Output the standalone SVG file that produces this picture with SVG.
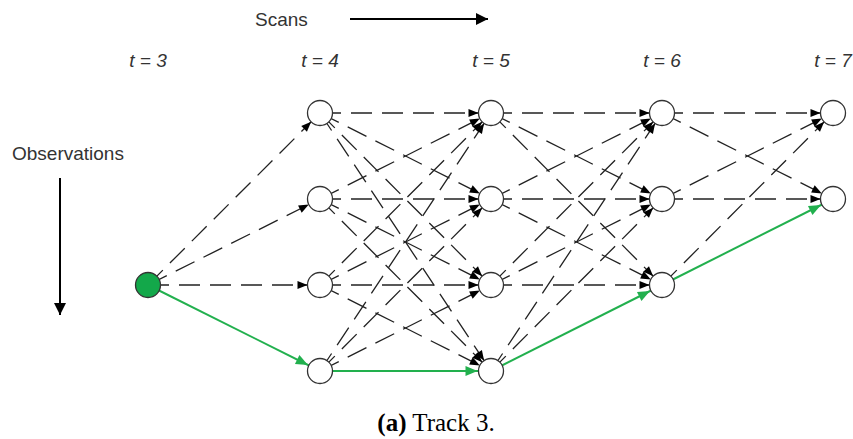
<svg xmlns="http://www.w3.org/2000/svg" width="853" height="439" viewBox="0 0 853 439">
<style>
.lbl{font-family:"Liberation Sans",Arial,sans-serif;font-size:19px;fill:#333}
.t{font-family:"Liberation Sans",Arial,sans-serif;font-size:19px;font-style:italic;fill:#333;text-anchor:middle}
.e{stroke:#222;stroke-width:1.3;fill:none;stroke-dasharray:21 10;marker-end:url(#ah)}
.g{stroke:#22b04e;stroke-width:2;fill:none;marker-end:url(#gh)}
.n{fill:#fff;stroke:#333;stroke-width:1.3}
.ng{fill:#13a84a;stroke:#333;stroke-width:1.3}
</style>
<defs>
<marker id="ah" markerUnits="userSpaceOnUse" markerWidth="12" markerHeight="10" refX="22.5" refY="4" orient="auto" overflow="visible"><path d="M0,0 L10,4 L0,8 z" fill="#000"/></marker>
<marker id="gh" markerUnits="userSpaceOnUse" markerWidth="14" markerHeight="12" refX="25.5" refY="5" orient="auto" overflow="visible"><path d="M0,0 L12,5 L0,10 z" fill="#22b04e"/></marker>
<marker id="bh" markerUnits="userSpaceOnUse" markerWidth="14" markerHeight="12" refX="12" refY="6" orient="auto" overflow="visible"><path d="M0,0 L12,6 L0,12 z" fill="#000"/></marker>
</defs>
<g id="labels">
<text class="lbl" x="255" y="26">Scans</text>
<text class="lbl" x="12" y="160">Observations</text>
<text class="t" x="148" y="67">t = 3</text>
<text class="t" x="320" y="67">t = 4</text>
<text class="t" x="491" y="67">t = 5</text>
<text class="t" x="662" y="67">t = 6</text>
<text class="t" x="833" y="67">t = 7</text>
<text x="436" y="431" text-anchor="middle" font-family="'Liberation Serif','Times New Roman',serif" font-size="25" fill="#000"><tspan font-weight="bold">(a)</tspan> Track 3.</text>
</g>
<g id="axes" stroke="#000" stroke-width="2">
<line x1="350" y1="19" x2="488" y2="19" marker-end="url(#bh)"/>
<line x1="60" y1="178" x2="60" y2="315" marker-end="url(#bh)"/>
</g>
<g id="connectors">
<line class="e" x1="148" y1="285" x2="320" y2="113"/>
<line class="e" x1="148" y1="285" x2="320" y2="199"/>
<line class="e" x1="148" y1="285" x2="320" y2="285"/>
<line class="e" x1="320" y1="113" x2="491" y2="113"/>
<line class="e" x1="320" y1="113" x2="491" y2="199"/>
<line class="e" x1="320" y1="113" x2="491" y2="285"/>
<line class="e" x1="320" y1="113" x2="491" y2="371"/>
<line class="e" x1="320" y1="199" x2="491" y2="113"/>
<line class="e" x1="320" y1="199" x2="491" y2="199"/>
<line class="e" x1="320" y1="199" x2="491" y2="285"/>
<line class="e" x1="320" y1="199" x2="491" y2="371"/>
<line class="e" x1="320" y1="285" x2="491" y2="113"/>
<line class="e" x1="320" y1="285" x2="491" y2="199"/>
<line class="e" x1="320" y1="285" x2="491" y2="285"/>
<line class="e" x1="320" y1="285" x2="491" y2="371"/>
<line class="e" x1="320" y1="371" x2="491" y2="113"/>
<line class="e" x1="320" y1="371" x2="491" y2="199"/>
<line class="e" x1="320" y1="371" x2="491" y2="285"/>
<line class="e" x1="491" y1="113" x2="662" y2="113"/>
<line class="e" x1="491" y1="113" x2="662" y2="199"/>
<line class="e" x1="491" y1="113" x2="662" y2="285"/>
<line class="e" x1="491" y1="199" x2="662" y2="113"/>
<line class="e" x1="491" y1="199" x2="662" y2="199"/>
<line class="e" x1="491" y1="199" x2="662" y2="285"/>
<line class="e" x1="491" y1="285" x2="662" y2="113"/>
<line class="e" x1="491" y1="285" x2="662" y2="199"/>
<line class="e" x1="491" y1="285" x2="662" y2="285"/>
<line class="e" x1="491" y1="371" x2="662" y2="113"/>
<line class="e" x1="491" y1="371" x2="662" y2="199"/>
<line class="e" x1="662" y1="113" x2="833" y2="113"/>
<line class="e" x1="662" y1="113" x2="833" y2="199"/>
<line class="e" x1="662" y1="199" x2="833" y2="113"/>
<line class="e" x1="662" y1="199" x2="833" y2="199"/>
<line class="e" x1="662" y1="285" x2="833" y2="113"/>
<line class="g" x1="148" y1="285" x2="320" y2="371"/>
<line class="g" x1="320" y1="371" x2="491" y2="371"/>
<line class="g" x1="491" y1="371" x2="662" y2="285"/>
<line class="g" x1="662" y1="285" x2="833" y2="199"/>
</g>
<g id="n3_1"><circle class="ng" cx="148" cy="285" r="12.5"/></g>
<g id="n4_1"><circle class="n" cx="320" cy="113" r="12.5"/></g>
<g id="n4_2"><circle class="n" cx="320" cy="199" r="12.5"/></g>
<g id="n4_3"><circle class="n" cx="320" cy="285" r="12.5"/></g>
<g id="n4_4"><circle class="n" cx="320" cy="371" r="12.5"/></g>
<g id="n5_1"><circle class="n" cx="491" cy="113" r="12.5"/></g>
<g id="n5_2"><circle class="n" cx="491" cy="199" r="12.5"/></g>
<g id="n5_3"><circle class="n" cx="491" cy="285" r="12.5"/></g>
<g id="n5_4"><circle class="n" cx="491" cy="371" r="12.5"/></g>
<g id="n6_1"><circle class="n" cx="662" cy="113" r="12.5"/></g>
<g id="n6_2"><circle class="n" cx="662" cy="199" r="12.5"/></g>
<g id="n6_3"><circle class="n" cx="662" cy="285" r="12.5"/></g>
<g id="n7_1"><circle class="n" cx="833" cy="113" r="12.5"/></g>
<g id="n7_2"><circle class="n" cx="833" cy="199" r="12.5"/></g>
</svg>
